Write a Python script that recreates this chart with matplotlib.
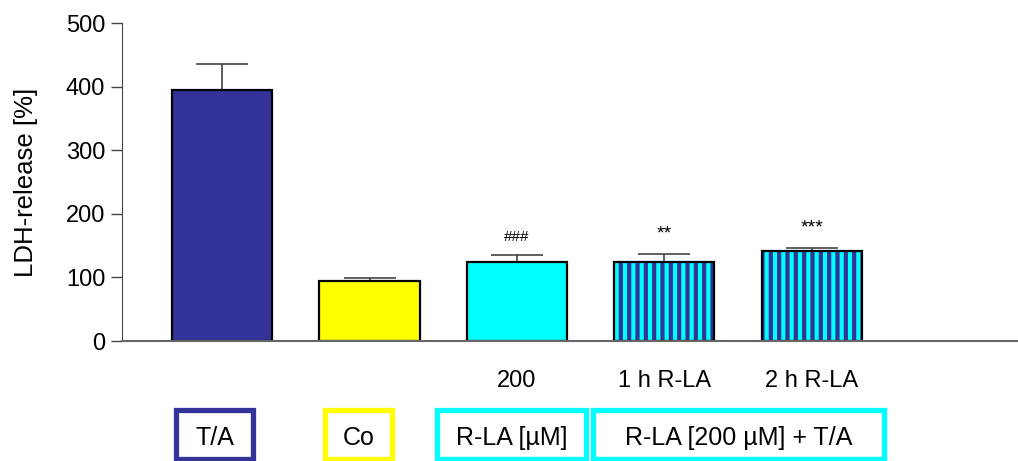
import numpy as np
import matplotlib.pyplot as plt
from matplotlib.patches import Rectangle

plt.rcParams['font.family'] = ['Liberation Sans', 'DejaVu Sans']
plt.rcParams['hatch.linewidth'] = 3.0

# values
groups = ["T/A", "Co", "R-LA 200", "1 h R-LA", "2 h R-LA"]
ldh = [395, 95, 125, 125, 141]
sem = [40, 4, 10, 12, 6]
marks = ["", "", "###", "**", "***"]
sub_labels = ["", "", "200", "1 h R-LA", "2 h R-LA"]

navy = "#333399"
yellow = "#FFFF00"
cyan = "#00FFFF"
faces = [navy, yellow, cyan, cyan, cyan]
hatches = [None, None, None, "||", "||"]

fig = plt.figure(figsize=(10.18, 4.61), dpi=100)
ax = fig.add_axes([0.1198, 0.2603, 0.8802, 0.6898])

x = np.arange(len(groups))
bars = ax.bar(x, ldh, width=0.68, color=faces, edgecolor="black", linewidth=1.6, zorder=2)
for b, h in zip(bars, hatches):
    if h:
        b.set_hatch(h)
        b._hatch_color = (0.2, 0.2, 0.6, 1.0)

ax.errorbar(x, ldh, yerr=[np.zeros(len(sem)), sem], fmt="none", ecolor="#444444",
            elinewidth=1.2, capsize=19, capthick=1.2, zorder=1)

for xi, v, e, m in zip(x, ldh, sem, marks):
    if m:
        fs = 11 if m.startswith("#") else 14
        ax.annotate(m, (xi, v + e), xytext=(0, 8), textcoords="offset points",
                    ha="center", va="bottom", fontsize=fs)

ax.set_xlim(-0.68, 5.4)
ax.set_ylim(0, 500)
ax.set_yticks([0, 100, 200, 300, 400, 500])
ax.tick_params(axis="y", direction="out", length=8, width=1, labelsize=17, pad=4, color="#444444")
ax.set_xticks([])
ax.set_ylabel("LDH-release [%]", fontsize=18.5, labelpad=20)
for s in ["top", "right"]:
    ax.spines[s].set_visible(False)
ax.spines["left"].set_color("#444444")
ax.spines["bottom"].set_color("#666666")
ax.spines["bottom"].set_linewidth(1.5)

for xi, lab in zip(x, sub_labels):
    if lab:
        ax.text(xi, -0.125, lab, transform=ax.get_xaxis_transform(), ha="center",
                va="center", fontsize=17)

# group boxes below the axis (pixel extents)
W, H = 1018, 461
boxes = [("T/A", 176, 253, navy), ("Co", 325, 392, yellow),
         ("R-LA [µM]", 437, 586, cyan), ("R-LA [200 µM] + T/A", 593, 884, cyan)]
for txt, x0, x1, col in boxes:
    fig.patches.append(Rectangle((x0 / W, 1 - 459 / H), (x1 - x0) / W, 49 / H,
                                 transform=fig.transFigure, fill=False,
                                 edgecolor=col, linewidth=3.8))
    fig.text((x0 + x1) / 2 / W, 1 - 438 / H, txt, ha="center", va="center", fontsize=18)

fig.savefig("out.png", dpi=100)
